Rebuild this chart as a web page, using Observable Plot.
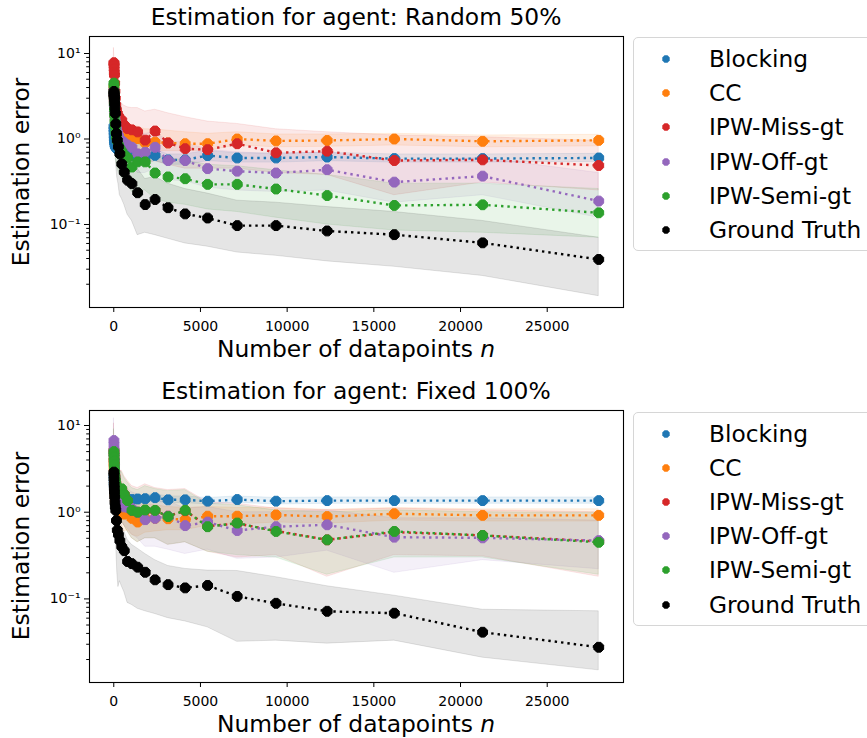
<!DOCTYPE html>
<html>
<head>
<meta charset="utf-8">
<script src="https://cdn.jsdelivr.net/npm/d3@7"></script>
<script src="https://cdn.jsdelivr.net/npm/@observablehq/plot@0.6"></script>
<style>
  body { margin: 0; background: #fff; font-family: "DejaVu Sans", sans-serif; }
  #wrap { position: relative; width: 867px; height: 738px; overflow: hidden; background: #fff; }
  .panel { position: absolute; left: 0; }
  .lbl { position: absolute; white-space: nowrap; line-height: 1; color: #000; transform: translate(-50%, -50%); }
  .ylbl { transform: translate(-50%, -50%) rotate(-90deg); }
  .legend { position: absolute; left: 633px; width: 260px; border: 1.2px solid #d6d6d6; border-radius: 5px; background: #fff; box-sizing: border-box; }
  .item { position: absolute; left: 0; white-space: nowrap; font-size: 23.3px; line-height: 1; }
  .item svg { position: absolute; left: 27px; top: -5px; }
  .item span { position: absolute; left: 75px; transform: translateY(-50%); top: 0; }
</style>
</head>
<body>
<div id="wrap"></div>
<script>
// ---------- data ----------
const nPoints = [10, 13, 17, 23, 30, 39, 52, 68, 89, 117, 154, 203, 267, 351, 461, 606, 797, 1048, 1378, 1812, 2382, 3132, 4118, 5414, 7119, 9360, 12307, 16181, 21275, 27973];
const methods = ["Blocking", "CC", "IPW-Miss-gt", "IPW-Off-gt", "IPW-Semi-gt", "Ground Truth"];
const colors = ["#1f77b4", "#ff7f0e", "#d62728", "#9467bd", "#2ca02c", "#000000"];
const titles = ["Estimation for agent: Random 50%", "Estimation for agent: Fixed 100%"];
const xTicks = [0, 5000, 10000, 15000, 20000, 25000];
const yTicks = [0.1, 1, 10];
const yTickLabels = ["10\u207B\u00B9", "10\u2070", "10\u00B9"];

// Panel 1: Random 50%
const r50Blocking   = [1.4,1.3,1.2,1.1,1.0,0.95,0.9,0.85,0.82,0.8,0.78,0.76,0.74,0.72,0.7,0.68,0.66,0.64,0.64,0.62,0.645,0.57,0.57,0.64,0.60,0.60,0.615,0.59,0.59,0.60];
const r50BlockingLo = [0.9,0.9,0.85,0.8,0.75,0.72,0.7,0.66,0.64,0.62,0.61,0.6,0.58,0.57,0.56,0.55,0.54,0.53,0.54,0.53,0.55,0.5,0.5,0.55,0.53,0.53,0.55,0.53,0.53,0.54];
const r50BlockingHi = [2.0,1.9,1.7,1.55,1.4,1.3,1.2,1.1,1.05,1.0,0.97,0.95,0.92,0.9,0.86,0.83,0.8,0.77,0.76,0.73,0.75,0.66,0.66,0.73,0.68,0.68,0.69,0.66,0.66,0.67];
const r50CC   = [4.0,3.6,3.3,3.0,2.7,2.4,2.1,1.9,1.7,1.55,1.4,1.3,1.25,1.2,1.15,1.3,1.1,1.05,1.01,0.90,0.92,0.90,0.88,0.88,1.0,0.95,0.96,1.0,0.94,0.965];
const r50CCLo = [2.0,1.9,1.8,1.7,1.6,1.5,1.4,1.3,1.2,1.1,1.0,0.95,0.9,0.87,0.84,0.9,0.8,0.78,0.75,0.7,0.72,0.72,0.72,0.73,0.84,0.8,0.81,0.84,0.8,0.82];
const r50CCHi = [7,6,5.5,5,4.5,4,3.5,3,2.7,2.4,2.2,2.0,1.9,1.8,1.7,1.8,1.55,1.45,1.4,1.3,1.3,1.25,1.2,1.15,1.2,1.13,1.13,1.15,1.1,1.12];
const r50Miss   = [7.8,7.6,7.2,6.6,6.0,5.6,4.5,3.6,3.0,2.5,2.2,2.0,1.85,1.7,1.66,1.45,1.32,1.28,1.21,0.97,1.24,0.90,0.77,0.75,0.88,0.69,0.72,0.56,0.57,0.49];
const r50MissLo = [4.5,4.5,4.3,4.0,3.7,3.4,2.8,2.2,1.8,1.5,1.3,1.15,1.05,0.95,0.9,0.8,0.72,0.68,0.6,0.5,0.55,0.5,0.45,0.45,0.45,0.4,0.38,0.22,0.31,0.25];
const r50MissHi = [11.5,11,10.5,10,9.5,9,7.5,6,5,4.2,3.7,3.3,3.0,2.8,2.6,2.45,2.35,2.3,2.3,2.1,2.2,2.0,1.8,1.6,1.5,1.3,1.2,1.1,1.05,0.95];
const r50Off   = [3.7,3.4,3.1,2.8,2.5,2.2,2.0,1.8,1.6,1.45,1.3,1.2,1.1,1.0,0.95,0.9,0.85,0.8,0.67,0.70,0.80,0.56,0.56,0.45,0.42,0.40,0.437,0.313,0.368,0.188];
const r50OffLo = [2.0,1.9,1.7,1.55,1.4,1.25,1.15,1.05,0.95,0.85,0.78,0.72,0.66,0.6,0.56,0.53,0.5,0.47,0.4,0.4,0.45,0.33,0.32,0.27,0.25,0.24,0.25,0.18,0.22,0.12];
const r50OffHi = [6.5,6,5.5,5,4.5,4,3.5,3.1,2.8,2.5,2.2,2.0,1.8,1.7,1.6,1.5,1.4,1.3,1.15,1.15,1.2,0.95,0.9,0.75,0.7,0.66,0.7,0.55,0.6,0.4];
const r50Semi   = [4.5,4.2,3.5,3.0,2.6,2.2,1.9,1.6,1.4,1.2,1.05,0.95,0.85,0.78,0.72,0.65,0.6,0.47,0.54,0.54,0.40,0.36,0.343,0.295,0.295,0.26,0.218,0.167,0.17,0.137];
const r50SemiLo = [2.2,2.1,1.8,1.5,1.3,1.1,0.95,0.8,0.7,0.6,0.52,0.47,0.42,0.38,0.35,0.32,0.3,0.24,0.26,0.25,0.2,0.18,0.17,0.15,0.14,0.12,0.1,0.085,0.08,0.07];
const r50SemiHi = [8,7.5,6.5,5.5,4.8,4,3.4,2.9,2.5,2.1,1.8,1.6,1.45,1.3,1.2,1.1,1.0,0.8,0.85,0.85,0.65,0.6,0.56,0.5,0.48,0.43,0.38,0.3,0.3,0.26];
const r50GT   = [3.6,3.4,3.3,3.2,3.1,2.9,2.6,2.3,2.0,1.5,1.16,0.97,0.81,0.67,0.51,0.41,0.33,0.30,0.235,0.171,0.196,0.157,0.133,0.119,0.097,0.097,0.084,0.076,0.061,0.039];
const r50GTLo = [1.8,1.7,1.6,1.5,1.4,1.3,1.1,0.95,0.8,0.6,0.45,0.35,0.3,0.22,0.2,0.17,0.13,0.11,0.075,0.08,0.075,0.068,0.06,0.055,0.047,0.043,0.037,0.032,0.025,0.0145];
const r50GTHi = [5.5,5.2,5,4.8,4.6,4.4,4.0,3.6,3.2,2.5,2.0,1.7,1.4,1.15,0.9,0.75,0.6,0.55,0.45,0.34,0.36,0.3,0.26,0.23,0.19,0.18,0.16,0.14,0.11,0.07];

// Panel 2: Fixed 100%
const f100Blocking   = [2.8,2.6,2.4,2.2,2.0,1.9,1.8,1.7,1.6,1.55,1.5,1.45,1.4,1.42,1.40,1.38,1.36,1.4,1.42,1.43,1.47,1.39,1.39,1.34,1.40,1.34,1.36,1.36,1.36,1.36];
const f100BlockingLo = [1.8,1.7,1.6,1.5,1.45,1.4,1.35,1.3,1.27,1.25,1.22,1.2,1.18,1.2,1.2,1.2,1.2,1.25,1.28,1.3,1.33,1.27,1.27,1.23,1.28,1.23,1.25,1.25,1.25,1.25];
const f100BlockingHi = [4.2,3.9,3.6,3.3,3.0,2.8,2.6,2.4,2.2,2.05,1.95,1.85,1.75,1.72,1.65,1.6,1.55,1.57,1.57,1.57,1.61,1.52,1.52,1.46,1.52,1.46,1.48,1.48,1.48,1.48];
const f100CC   = [4.0,3.6,3.2,2.8,2.4,2.1,1.8,1.6,1.4,1.3,1.2,1.1,1.05,1.0,0.98,0.95,1.0,0.85,0.77,0.85,0.85,0.84,0.82,0.90,0.90,0.93,0.89,0.96,0.92,0.92];
const f100CCLo = [2,1.9,1.7,1.5,1.3,1.15,1.0,0.9,0.8,0.75,0.7,0.66,0.63,0.6,0.6,0.6,0.62,0.55,0.52,0.58,0.6,0.62,0.62,0.7,0.72,0.76,0.74,0.8,0.78,0.78];
const f100CCHi = [7,6,5.2,4.5,3.8,3.2,2.7,2.3,2.0,1.85,1.7,1.55,1.5,1.45,1.42,1.4,1.45,1.3,1.2,1.25,1.2,1.15,1.12,1.15,1.12,1.12,1.07,1.12,1.08,1.08];
const f100Miss   = [5.2,4.9,4.5,4.0,3.6,3.2,2.9,2.6,2.35,2.15,2.0,1.9,1.85,1.8,1.8,1.6,1.35,1.05,1.0,1.05,1.04,0.9,1.04,0.69,0.74,0.61,0.48,0.59,0.54,0.46];
const f100MissLo = [2.5,2.4,2.2,2.0,1.8,1.6,1.45,1.3,1.2,1.1,1.0,0.95,0.9,0.85,0.8,0.7,0.6,0.5,0.45,0.5,0.5,0.42,0.45,0.35,0.3,0.32,0.18,0.32,0.31,0.18];
const f100MissHi = [10.5,9.5,8.5,7.5,6.5,5.8,5.2,4.6,4.2,3.8,3.5,3.3,3.1,3.0,3.0,2.6,2.3,2.0,1.9,2.1,1.9,1.8,1.85,1.3,1.25,1.1,1.05,1.1,1.05,1.0];
const f100Off   = [6.7,6.0,5.3,4.6,4.0,3.4,2.9,2.5,2.2,1.9,1.7,1.5,1.35,1.25,1.2,1.15,1.14,1.1,1.0,0.82,0.85,0.90,0.70,0.77,0.615,0.68,0.716,0.515,0.506,0.47];
const f100OffLo = [3.5,3.2,2.9,2.6,2.3,2.0,1.75,1.5,1.35,1.2,1.05,0.95,0.85,0.8,0.75,0.7,0.65,0.55,0.5,0.4,0.4,0.37,0.33,0.37,0.29,0.3,0.36,0.2,0.28,0.22];
const f100OffHi = [12,10.5,9,8,7,6,5,4.3,3.7,3.2,2.8,2.5,2.3,2.1,2.0,1.9,1.85,1.7,1.6,1.3,1.3,1.35,1.1,1.15,1.0,1.0,1.05,0.85,0.85,0.8];
const f100Semi   = [5.0,4.7,4.3,3.9,3.5,3.1,2.8,2.5,2.3,2.1,2.0,1.9,1.85,1.8,1.86,1.6,1.36,1.05,1.0,1.06,1.05,0.89,1.05,0.68,0.75,0.60,0.48,0.60,0.54,0.45];
const f100SemiLo = [2.5,2.4,2.2,2.0,1.8,1.6,1.45,1.3,1.2,1.1,1.0,0.95,0.9,0.85,0.8,0.7,0.6,0.5,0.45,0.5,0.5,0.42,0.45,0.35,0.32,0.3,0.19,0.3,0.3,0.19];
const f100SemiHi = [9,8.5,7.8,7,6.2,5.5,5.0,4.4,4.0,3.6,3.4,3.2,3.0,2.9,2.9,2.5,2.2,1.9,1.8,2.0,1.85,1.75,1.8,1.25,1.2,1.05,1.0,1.05,1.0,0.98];
const f100GT   = [2.9,2.7,2.4,2.1,1.9,1.7,1.5,1.3,1.15,1.05,0.80,0.62,0.55,0.47,0.40,0.36,0.27,0.255,0.232,0.203,0.166,0.146,0.134,0.143,0.107,0.089,0.072,0.0684,0.0413,0.0277];
const f100GTLo = [1.6,1.5,1.3,1.15,1.0,0.9,0.8,0.7,0.6,0.5,0.35,0.2,0.137,0.16,0.14,0.12,0.09,0.085,0.077,0.072,0.067,0.06,0.055,0.047,0.032,0.033,0.0305,0.033,0.021,0.015];
const f100GTHi = [4.5,4.2,3.8,3.4,3.0,2.7,2.4,2.1,1.9,1.7,1.4,1.1,0.95,0.8,0.7,0.6,0.48,0.42,0.38,0.33,0.28,0.24,0.222,0.212,0.21,0.178,0.14,0.109,0.075,0.072];

const panelSeries = [
  [[r50Blocking, r50BlockingLo, r50BlockingHi], [r50CC, r50CCLo, r50CCHi], [r50Miss, r50MissLo, r50MissHi],
   [r50Off, r50OffLo, r50OffHi], [r50Semi, r50SemiLo, r50SemiHi], [r50GT, r50GTLo, r50GTHi]],
  [[f100Blocking, f100BlockingLo, f100BlockingHi], [f100CC, f100CCLo, f100CCHi], [f100Miss, f100MissLo, f100MissHi],
   [f100Off, f100OffLo, f100OffHi], [f100Semi, f100SemiLo, f100SemiHi], [f100GT, f100GTLo, f100GTHi]]
];

// ---------- drawing ----------
const octagon = {
  draw(ctx, size) {
    const r = Math.sqrt(size / Math.PI);
    for (let k = 0; k < 8; ++k) {
      const a = (k + 0.5) * Math.PI / 4;
      const x = r * Math.cos(a), y = r * Math.sin(a);
      if (k === 0) ctx.moveTo(x, y); else ctx.lineTo(x, y);
    }
    ctx.closePath();
  }
};

const minorTicks = [];
for (const e of [-2, -1, 0, 1]) for (let m = 2; m <= 9; ++m) minorTicks.push(m * Math.pow(10, e));

const layouts = [
  {top: 0, height: 369, mt: 36, mb: 62, domain: [Math.pow(10, -1.971), Math.pow(10, 1.199)]},
  {top: 369, height: 369, mt: 41, mb: 56, domain: [Math.pow(10, -1.964), Math.pow(10, 1.173)]}
];

const wrap = document.getElementById("wrap");
const bigFont = 23.4;

layouts.forEach((L, p) => {
  const series = panelSeries[p];
  const rowsBy = series.map(([v, lo, hi], i) => nPoints.map((n, j) => ({method: methods[i], n, v: v[j], lo: lo[j], hi: hi[j]})));
  const marks = [];
  rowsBy.forEach((rows, i) => {
    marks.push(Plot.areaY(rows, {x: "n", y1: "lo", y2: "hi", fill: colors[i], fillOpacity: 0.1, stroke: colors[i], strokeOpacity: 0.1, strokeWidth: 1}));
  });
  rowsBy.forEach((rows, i) => {
    marks.push(Plot.line(rows, {x: "n", y: "v", stroke: colors[i], strokeWidth: 2.4, strokeDasharray: "2.4 4", strokeLinecap: "butt", strokeLinejoin: "miter"}));
    marks.push(Plot.dot(rows, {x: "n", y: "v", fill: colors[i], stroke: colors[i], strokeWidth: 1, r: 5.3, symbol: octagon}));
  });
  marks.push(Plot.axisX({ticks: xTicks, tickSize: 5, tickPadding: 9, tickFormat: d => String(d), label: null, fontSize: 14}));
  marks.push(Plot.axisY({ticks: yTicks, tickSize: 5, tickPadding: 4, tickFormat: d => yTickLabels[yTicks.indexOf(d)], label: null, fontSize: 14}));
  marks.push(Plot.axisY({ticks: minorTicks.filter(t => t >= L.domain[0] && t <= L.domain[1]), tickSize: 2.8, tickFormat: () => "", label: null}));
  marks.push(Plot.frame({stroke: "#000", strokeWidth: 1.1}));

  const svg = Plot.plot({
    width: 867, height: L.height,
    marginLeft: 89, marginRight: 244, marginTop: L.mt, marginBottom: L.mb,
    style: {fontFamily: "DejaVu Sans", fontSize: "14px", background: "transparent", color: "#000", overflow: "visible"},
    x: {domain: [-1400, 29400]},
    y: {type: "log", domain: L.domain},
    marks
  });
  svg.classList.add("panel");
  svg.style.top = L.top + "px";
  svg.style.position = "absolute";
  wrap.appendChild(svg);

  const frameTop = L.top + L.mt, frameBottom = L.top + L.height - L.mb;
  const cx = (89 + 623) / 2;
  const mk = (cls, text, x, y, fs, html) => {
    const d = document.createElement("div");
    d.className = cls;
    if (html) d.innerHTML = text; else d.textContent = text;
    d.style.left = x + "px"; d.style.top = y + "px"; d.style.fontSize = fs + "px";
    wrap.appendChild(d);
  };
  mk("lbl", titles[p], cx, frameTop - 17.8, bigFont);
  mk("lbl", "Number of datapoints <i>n</i>", cx, frameBottom + 42.5, bigFont, true);
  mk("lbl ylbl", "Estimation error", 22, (frameTop + frameBottom) / 2, bigFont);

  // legend
  const leg = document.createElement("div");
  leg.className = "legend";
  const legTop = p === 0 ? 37 : 411.5;
  leg.style.top = legTop + "px";
  leg.style.height = "214px";
  methods.forEach((m, i) => {
    const it = document.createElement("div");
    it.className = "item";
    it.style.top = (21 + i * 34.2) + "px";
    const pts = d3.range(8).map(k => { const a = (k + 0.5) * Math.PI / 4; return [5 + 4 * Math.cos(a), 5 + 4 * Math.sin(a)]; });
    it.innerHTML = `<svg width="10" height="10"><polygon points="${pts.map(q => q.join(",")).join(" ")}" fill="${colors[i]}"/></svg><span>${m}</span>`;
    leg.appendChild(it);
  });
  wrap.appendChild(leg);
});
</script>
</body>
</html>
